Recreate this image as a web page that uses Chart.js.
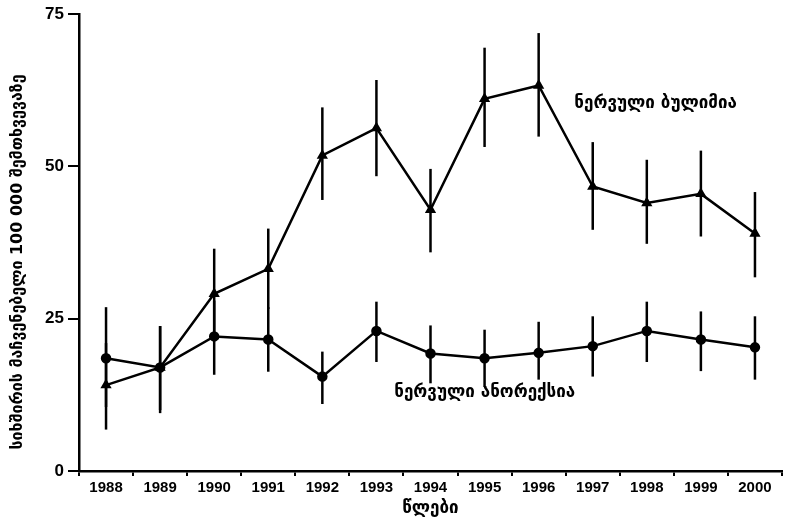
<!DOCTYPE html>
<html>
<head>
<meta charset="utf-8">
<script src="https://cdn.jsdelivr.net/npm/chart.js@4"></script>
<style>
  html, body { margin: 0; padding: 0; background: #fff; }
  #wrap { width: 789px; height: 521px; }
</style>
</head>
<body>
<div id="wrap"><canvas id="chart" width="789" height="521"></canvas></div>
<script>
// years on the x axis
const years = ['1988', '1989', '1990', '1991', '1992', '1993', '1994', '1995', '1996', '1997', '1998', '1999', '2000'];

// bulimia nervosa (triangles) - rate and error bar ends
const bulimia     = [14.1, 17.0, 29.1, 33.2, 51.8, 56.3, 42.9, 61.1, 63.3, 46.7, 44.0, 45.5, 39.0];
const bulimiaLow  = [6.8, 10.0, 22.0, 26.6, 44.5, 48.4, 35.9, 53.2, 54.9, 39.6, 37.3, 38.5, 31.8];
const bulimiaHigh = [21.0, 23.8, 36.5, 39.8, 59.7, 64.2, 49.6, 69.5, 71.9, 54.0, 51.1, 52.6, 45.8];

// anorexia nervosa (circles)
const anorexia     = [18.5, 17.0, 22.1, 21.6, 15.5, 23.0, 19.3, 18.5, 19.4, 20.5, 23.0, 21.6, 20.3];
const anorexiaLow  = [10.5, 9.5, 15.8, 16.3, 11.0, 17.9, 14.4, 13.8, 15.0, 15.5, 17.9, 16.4, 15.0];
const anorexiaHigh = [26.9, 23.8, 28.0, 26.9, 19.6, 27.8, 23.9, 23.2, 24.5, 25.4, 27.8, 26.2, 25.4];

const yTicks = [0, 25, 50, 75];

const Y_TITLE = 'სიხშირის მაჩვენებელი 100 000 შემთხვევაზე';
const X_TITLE = 'წლები';
const GEO_FONT = '"DejaVu Sans", sans-serif';
const NUM_FONT = '"Liberation Sans", Arial, sans-serif';

// series labels, placed in data space (category index, value)
const seriesLabels = [
    { text: 'ნერვული ბულიმია', index: 8.66, value: 60.4 },
    { text: 'ნერვული ანორექსია', index: 5.33, value: 12.8 }
];

const errorBars = {
    id: 'errorBars',
    beforeDatasetsDraw(chart) {
        const ctx = chart.ctx;
        const x = chart.scales.x, y = chart.scales.y;
        ctx.save();
        ctx.strokeStyle = '#000';
        ctx.lineWidth = 2.5;
        [[bulimiaLow, bulimiaHigh], [anorexiaLow, anorexiaHigh]].forEach(([lo, hi]) => {
            lo.forEach((v, i) => {
                const px = x.getPixelForValue(i);
                ctx.beginPath();
                ctx.moveTo(px, y.getPixelForValue(v));
                ctx.lineTo(px, y.getPixelForValue(hi[i]));
                ctx.stroke();
            });
        });
        ctx.restore();
    },
    afterDraw(chart) {
        const ctx = chart.ctx;
        const x = chart.scales.x, y = chart.scales.y;
        ctx.save();
        ctx.fillStyle = '#000';
        ctx.font = 'bold 17px ' + GEO_FONT;
        ctx.textAlign = 'left';
        ctx.textBaseline = 'middle';
        seriesLabels.forEach(l => {
            ctx.fillText(l.text, x.getPixelForValue(l.index), y.getPixelForValue(l.value));
        });
        // y axis title
        ctx.translate(18, 262);
        ctx.rotate(-Math.PI / 2);
        ctx.textAlign = 'center';
        ctx.font = 'bold 16px ' + GEO_FONT;
        ctx.fillText(Y_TITLE, 0, 0);
        ctx.restore();
    }
};

new Chart(document.getElementById('chart'), {
    type: 'line',
    data: {
        labels: years,
        datasets: [
            {
                label: 'ნერვული ბულიმია',
                data: bulimia,
                borderColor: '#000',
                backgroundColor: '#000',
                borderWidth: 2.5,
                pointStyle: 'triangle',
                pointRadius: 4,
                tension: 0
            },
            {
                label: 'ნერვული ანორექსია',
                data: anorexia,
                borderColor: '#000',
                backgroundColor: '#000',
                borderWidth: 2.5,
                pointStyle: 'circle',
                pointRadius: 4,
                tension: 0
            }
        ]
    },
    options: {
        responsive: false,
        animation: false,
        layout: { padding: { top: 13, right: 7, left: 0, bottom: 0 } },
        scales: {
            x: {
                offset: true,
                grid: { offset: true, drawOnChartArea: false, drawTicks: true, tickLength: 5, color: '#000', lineWidth: 2 },
                border: { display: true, color: '#000', width: 2.5 },
                ticks: { color: '#000', font: { family: NUM_FONT, size: 15, weight: 'bold' }, padding: 3, maxRotation: 0 },
                title: { display: true, text: X_TITLE, color: '#000', font: { family: GEO_FONT, size: 17, weight: 'bold' }, padding: { top: 0, bottom: 2 } },
                afterFit(scale) { scale.height = 50; }
            },
            y: {
                min: 0,
                max: 75,
                afterBuildTicks(scale) { scale.ticks = yTicks.map(v => ({ value: v })); },
                grid: { drawOnChartArea: false, drawTicks: true, tickLength: 11, color: '#000', lineWidth: 2 },
                border: { display: true, color: '#000', width: 2.5 },
                ticks: { color: '#000', font: { family: NUM_FONT, size: 17, weight: 'bold' }, padding: 4 },
                afterFit(scale) { scale.width = 79; }
            }
        },
        plugins: {
            legend: { display: false },
            tooltip: { enabled: false }
        }
    },
    plugins: [errorBars]
});
</script>
</body>
</html>
